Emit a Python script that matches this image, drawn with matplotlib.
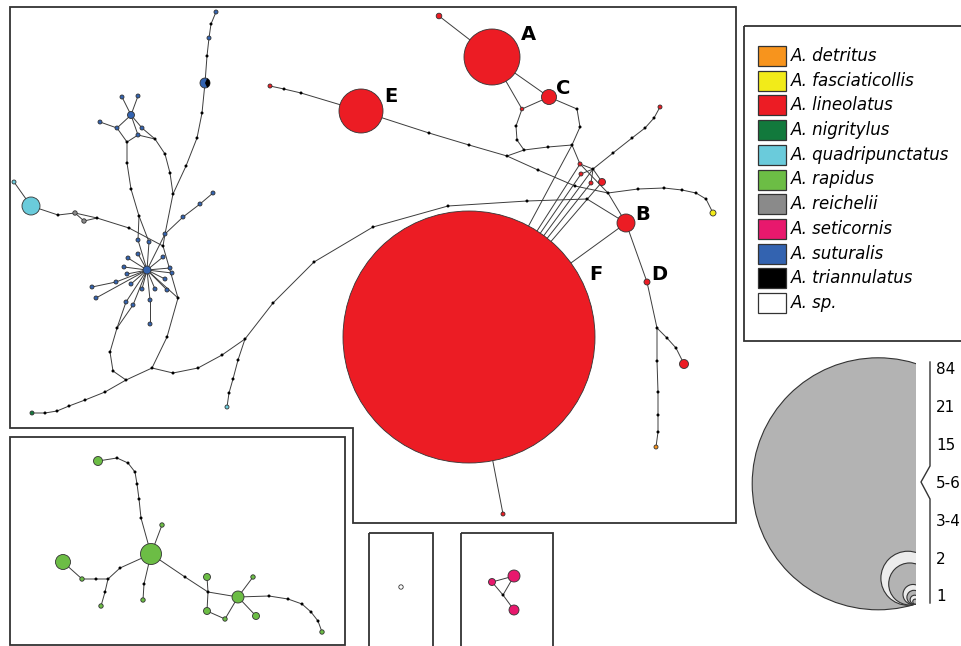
import matplotlib
matplotlib.use("Agg")
from matplotlib import pyplot as plt
from matplotlib import patches

# species legend
species = ["det", "fas", "lin", "nig", "qua", "rap", "rei", "set", "sut", "tri", "sp"]
species_labels = ["A. detritus", "A. fasciaticollis", "A. lineolatus", "A. nigritylus",
                  "A. quadripunctatus", "A. rapidus", "A. reichelii", "A. seticornis",
                  "A. suturalis", "A. triannulatus", "A. sp."]
species_colors = ["#f7941d", "#f2eb19", "#ec1c24", "#12793c", "#6acbdb", "#6cbd45",
                  "#8a8a8a", "#e8186d", "#3363b0", "#000000", "#ffffff"]
color_of = dict(zip(species, species_colors))

# haplotypes: id, x, y, radius, species ("mv" = median vector)
lineolatus_net = [
    ("F", 469, 337, 126, "lin"), ("A", 492, 57, 28, "lin"), ("E", 361, 111, 22, "lin"),
    ("C", 549, 97, 7.5, "lin"), ("B", 626, 223, 9, "lin"), ("D", 647, 282, 3, "lin"),
    ("a1", 439, 16, 2.8, "lin"), ("c1", 522, 109, 1.8, "lin"),
    ("m1", 577, 109, 0, "mv"), ("m2", 516, 126, 0, "mv"), ("m3", 517, 140, 0, "mv"),
    ("m4", 524, 150, 0, "mv"), ("m5", 548, 147, 0, "mv"), ("m6", 572, 145, 0, "mv"),
    ("m7", 580, 127, 0, "mv"),
    ("e0", 270, 86, 2, "lin"), ("e1", 284, 89, 0, "mv"), ("e2", 301, 93, 0, "mv"),
    ("e3", 429, 133, 0, "mv"), ("e4", 469, 145, 0, "mv"), ("e5", 507, 156, 0, "mv"),
    ("e6", 538, 170, 0, "mv"), ("e7", 575, 186, 0, "mv"), ("e8", 608, 193, 0, "mv"),
    ("r1", 580, 164, 2, "lin"), ("r2", 581, 174, 2, "lin"), ("r3", 593, 169, 0, "mv"),
    ("r4", 591, 183, 2, "lin"), ("r5", 602, 182, 3.5, "lin"),
    ("u1", 613, 153, 0, "mv"), ("u2", 632, 138, 0, "mv"), ("u3", 645, 128, 0, "mv"),
    ("u4", 654, 118, 0, "mv"), ("u5", 660, 107, 2, "lin"),
    ("y1", 638, 189, 0, "mv"), ("y2", 664, 188, 0, "mv"), ("y3", 682, 190, 0, "mv"),
    ("y4", 696, 193, 0, "mv"), ("y5", 706, 199, 0, "mv"), ("yel", 713, 213, 3, "fas"),
    ("l1", 587, 199, 0, "mv"), ("l2", 527, 201, 0, "mv"), ("l3", 448, 206, 0, "mv"),
    ("l4", 373, 227, 0, "mv"), ("l5", 314, 262, 0, "mv"), ("l6", 273, 303, 0, "mv"),
    ("J", 245, 339, 0, "mv"),
    ("d1", 657, 328, 0, "mv"), ("d2", 667, 338, 0, "mv"), ("d3", 676, 348, 0, "mv"),
    ("dr", 684, 364, 4.5, "lin"), ("d4", 657, 361, 0, "mv"), ("d5", 658, 392, 0, "mv"),
    ("d6", 658, 415, 0, "mv"), ("d7", 658, 432, 0, "mv"), ("det", 656, 447, 2, "det"),
    ("f1", 503, 514, 2, "lin"),
]
lineolatus_edges = [
    ["a1", "A", "C", "m1", "m7", "m6", "m5", "m4", "m3", "m2", "c1", "C"], ["A", "c1"],
    ["m4", "e5"], ["e0", "e1", "e2", "E", "e3", "e4", "e5", "e6", "e7", "e8", "B"],
    ["m6", "r1", "r3", "r5"], ["r2", "r3", "r4"], ["r1", "e8"],
    ["r3", "u1", "u2", "u3", "u4", "u5"], ["e8", "y1", "y2", "y3", "y4", "y5", "yel"],
    ["B", "l1", "l2", "l3", "l4", "l5", "l6", "J"],
    ["F", "B", "D", "d1", "d2", "d3", "dr"], ["d1", "d4", "d5", "d6", "d7", "det"],
    ["F", "f1"], ["F", "r1"], ["F", "r2"], ["F", "r3"], ["F", "r4"], ["F", "r5"], ["F", "m6"],
]

suturalis_net = [
    ("hub", 147, 270, 4, "sut"),
    ("s1", 149, 242, 2, "sut"), ("s2", 165, 234, 2, "sut"), ("s3", 128, 258, 2, "sut"),
    ("s4", 138, 254, 2, "sut"), ("s5", 163, 257, 2, "sut"), ("s6", 124, 267, 2, "sut"),
    ("s7", 170, 268, 2, "sut"), ("s8", 172, 273, 2, "sut"), ("s9", 127, 274, 2, "sut"),
    ("s10", 165, 279, 2, "sut"), ("s11", 131, 284, 2, "sut"), ("s12", 116, 282, 2, "sut"),
    ("s13", 142, 289, 2, "sut"), ("s14", 155, 289, 2, "sut"), ("s15", 167, 290, 2, "sut"),
    ("s16", 150, 300, 2, "sut"), ("s17", 133, 305, 2, "sut"), ("s18", 126, 302, 2, "sut"),
    ("s19", 138, 240, 2, "sut"),
    ("q1", 92, 287, 2, "sut"), ("q2", 96, 298, 2, "sut"), ("q3", 150, 324, 2, "sut"),
    ("c2", 183, 217, 2, "sut"), ("c3", 200, 204, 2, "sut"), ("c4", 213, 193, 2, "sut"),
    ("t1", 216, 12, 2, "sut"), ("t2", 211, 24, 0, "mv"), ("t3", 209, 38, 2, "sut"),
    ("t4", 207, 56, 0, "mv"), ("t5", 205, 83, 5, "sut"), ("t6", 202, 113, 0, "mv"),
    ("t7", 197, 138, 0, "mv"), ("t8", 186, 166, 0, "mv"), ("t9", 173, 194, 0, "mv"),
    ("k1", 127, 142, 0, "mv"), ("k2", 117, 128, 2, "sut"), ("k3", 100, 122, 2, "sut"),
    ("k4", 131, 115, 3.5, "sut"), ("k5", 122, 97, 2, "sut"), ("k6", 138, 96, 2, "sut"),
    ("k7", 142, 128, 2, "sut"), ("k8", 138, 135, 2, "sut"), ("k9", 155, 139, 0, "mv"),
    ("k10", 165, 154, 0, "mv"), ("k11", 170, 173, 0, "mv"),
    ("v1", 127, 163, 0, "mv"), ("v2", 131, 189, 0, "mv"), ("v3", 139, 216, 0, "mv"),
    ("Q", 31, 206, 9, "qua"), ("q0", 14, 182, 2, "qua"), ("w1", 58, 215, 0, "mv"),
    ("w2", 75, 213, 2.2, "rei"), ("w3", 84, 221, 2.2, "rei"), ("w4", 97, 218, 0, "mv"),
    ("w5", 129, 228, 0, "mv"), ("w6", 163, 246, 0, "mv"),
    ("x1", 178, 298, 0, "mv"), ("x2", 167, 337, 0, "mv"), ("x3", 152, 368, 0, "mv"),
    ("x4", 173, 373, 0, "mv"), ("x5", 198, 368, 0, "mv"), ("x6", 222, 355, 0, "mv"),
    ("z1", 117, 328, 0, "mv"), ("z2", 110, 352, 0, "mv"), ("z3", 113, 371, 0, "mv"),
    ("z4", 126, 380, 0, "mv"), ("z5", 105, 392, 0, "mv"), ("z6", 85, 400, 0, "mv"),
    ("z7", 69, 406, 0, "mv"), ("z8", 57, 411, 0, "mv"), ("z9", 45, 413, 0, "mv"),
    ("nig", 32, 413, 2, "nig"),
    ("j1", 238, 360, 0, "mv"), ("j2", 233, 379, 0, "mv"), ("j3", 229, 393, 0, "mv"),
    ("qc", 227, 407, 2, "qua"),
]
suturalis_edges = (
    [["hub", "s%d" % i] for i in range(1, 20)]
    + [["hub", "x1"], ["hub", "q2"], ["s12", "q1"], ["s16", "q3"], ["s2", "c2", "c3", "c4"],
       ["t1", "t2", "t3", "t4", "t5", "t6", "t7", "t8", "t9", "s2"],
       ["k3", "k2", "k4", "k7", "k9"], ["k5", "k4", "k6"], ["k2", "k1", "k8", "k9"], ["k4", "k8"],
       ["k9", "k10", "k11", "t9"], ["k1", "v1", "v2", "v3", "s19"], ["v3", "s1"],
       ["q0", "Q", "w1", "w2", "w3", "w4"], ["w2", "w4", "w5", "w6", "s2"], ["w6", "x1"],
       ["x1", "x2", "x3", "x4", "x5", "x6", "J"], ["s17", "z1"], ["s18", "z1"],
       ["z1", "z2", "z3", "z4", "x3"], ["z4", "z5", "z6", "z7", "z8", "z9", "nig"],
       ["J", "j1", "j2", "j3", "qc"]]
)

rapidus_net = [
    ("G", 151, 554, 10.5, "rap"), ("g1", 98, 461, 4.5, "rap"),
    ("gm1", 117, 458, 0, "mv"), ("gm2", 128, 463, 0, "mv"), ("gm3", 135, 472, 0, "mv"),
    ("gm4", 137, 484, 0, "mv"), ("gm5", 139, 499, 0, "mv"), ("gm6", 141, 518, 0, "mv"),
    ("g2", 162, 525, 2.2, "rap"), ("gm7", 144, 584, 0, "mv"), ("g3", 143, 600, 2.2, "rap"),
    ("gm8", 120, 568, 0, "mv"), ("gm9", 108, 579, 0, "mv"), ("gm10", 96, 579, 0, "mv"),
    ("g4", 82, 579, 2.2, "rap"), ("g5", 63, 562, 7.5, "rap"),
    ("gm11", 105, 592, 0, "mv"), ("g6", 101, 606, 2.2, "rap"),
    ("gm12", 185, 577, 0, "mv"), ("gm13", 208, 592, 0, "mv"),
    ("g7", 207, 577, 3.5, "rap"), ("g8", 207, 611, 3.5, "rap"), ("g9", 225, 619, 2.2, "rap"),
    ("G2", 238, 597, 6, "rap"), ("g10", 253, 577, 2.2, "rap"), ("g11", 256, 616, 3.5, "rap"),
    ("gm14", 269, 596, 0, "mv"), ("gm15", 288, 599, 0, "mv"), ("gm16", 302, 604, 0, "mv"),
    ("gm17", 311, 612, 0, "mv"), ("gm18", 318, 621, 0, "mv"), ("g12", 322, 632, 2.2, "rap"),
]
rapidus_edges = [
    ["g1", "gm1", "gm2", "gm3", "gm4", "gm5", "gm6", "G"], ["G", "g2"], ["G", "gm7", "g3"],
    ["G", "gm8", "gm9", "gm10", "g4", "g5"], ["gm9", "gm11", "g6"],
    ["G", "gm12", "gm13", "G2"], ["g7", "gm13", "g8", "g9", "G2"], ["G2", "g10"], ["G2", "g11"],
    ["G2", "gm14", "gm15", "gm16", "gm17", "gm18", "g12"],
]

small_nets = [
    ("sp1", 401, 587, 2.2, "sp"),
    ("st1", 492, 582, 3.5, "set"), ("st2", 514, 576, 6, "set"), ("st3", 514, 610, 5, "set"),
    ("stm", 503, 595, 0, "mv"),
]
small_edges = [["st1", "st2", "stm", "st1"], ["stm", "st3"]]

# haplogroup labels
group_labels = ["A", "B", "C", "D", "E", "F"]
group_label_x = [528, 643, 563, 659, 391, 596]
group_label_y = [35, 215, 88, 275, 96, 275]

# size scale for node circles
scale_labels = ["84", "21", "15", "5-6", "3-4", "2", "1"]
scale_radii = [126, 27, 21, 10, 7, 4.5, 2.5]

fig = plt.figure(figsize=(9.62, 6.46), dpi=100)
ax = fig.add_axes([0, 0, 1, 1])
ax.set_xlim(0, 962)
ax.set_ylim(646, 0)
ax.set_aspect("equal")
ax.axis("off")

frame_kw = dict(fill=False, edgecolor="#333333", linewidth=1.3, zorder=5)

# panel frames
ax.add_patch(patches.Polygon([(10, 7), (736, 7), (736, 523), (353, 523), (353, 428), (10, 428)],
                             closed=True, **frame_kw))
ax.add_patch(patches.Rectangle((10, 437), 335, 208, **frame_kw))
ax.add_patch(patches.Rectangle((369, 533), 64, 120, **frame_kw))
ax.add_patch(patches.Rectangle((461, 533), 92, 120, **frame_kw))

all_nodes = lineolatus_net + suturalis_net + rapidus_net + small_nets
all_edges = lineolatus_edges + suturalis_edges + rapidus_edges + small_edges
pos = {n[0]: (n[1], n[2]) for n in all_nodes}

for chain in all_edges:
    xs = [pos[k][0] for k in chain]
    ys = [pos[k][1] for k in chain]
    ax.plot(xs, ys, color="#3c3c3c", lw=0.7, zorder=1, solid_capstyle="round")

for nid, x, y, r, sp in all_nodes:
    if sp == "mv":
        ax.add_patch(patches.Circle((x, y), 1.5, facecolor="black", edgecolor="none", zorder=3))
        continue
    ax.add_patch(patches.Circle((x, y), r, facecolor=color_of[sp], edgecolor="#333333",
                                lw=0.6, zorder=2 if r > 50 else 3))
    if nid == "t5":
        # shared haplotype with A. triannulatus
        ax.add_patch(patches.Wedge((x, y), r, -65, 65, facecolor=color_of["tri"],
                                   edgecolor="none", zorder=3))

for lab, lx, ly in zip(group_labels, group_label_x, group_label_y):
    ax.text(lx, ly, lab, fontsize=14, fontweight="bold", ha="center", va="center", zorder=6)

# species legend
ax.add_patch(patches.Rectangle((744, 26), 240, 315, **frame_kw))
for i, (lab, col) in enumerate(zip(species_labels, species_colors)):
    yc = 56 + 24.7 * i
    ax.add_patch(patches.Rectangle((758, yc - 10), 28, 20, facecolor=col, edgecolor="#333333",
                                   lw=0.9, zorder=5))
    ax.text(791, yc, lab, fontsize=12, style="italic", ha="left", va="center")

# size scale: nested circles touching at one point, cut on the right
px, py = 916, 604
dx, dy = -0.30, -0.954
clip = patches.Rectangle((700, 300), px - 700, 330, transform=ax.transData)
for i, r in enumerate(scale_radii):
    fc = "#b3b3b3" if i % 2 == 0 else "#ececec"
    c = patches.Circle((px + dx * r, py + dy * r), r, facecolor=fc, edgecolor="#333333",
                       lw=0.8, zorder=4 + i * 0.01)
    ax.add_patch(c)
    c.set_clip_path(clip)
ax.plot([930, 930, 921, 930, 930], [362, 466, 482, 499, 603], color="#333333", lw=1.0)
for i, lab in enumerate(scale_labels):
    ax.text(936, 370 + 37.8 * i, lab, fontsize=11, ha="left", va="center")

fig.savefig("out.png", dpi=100)
